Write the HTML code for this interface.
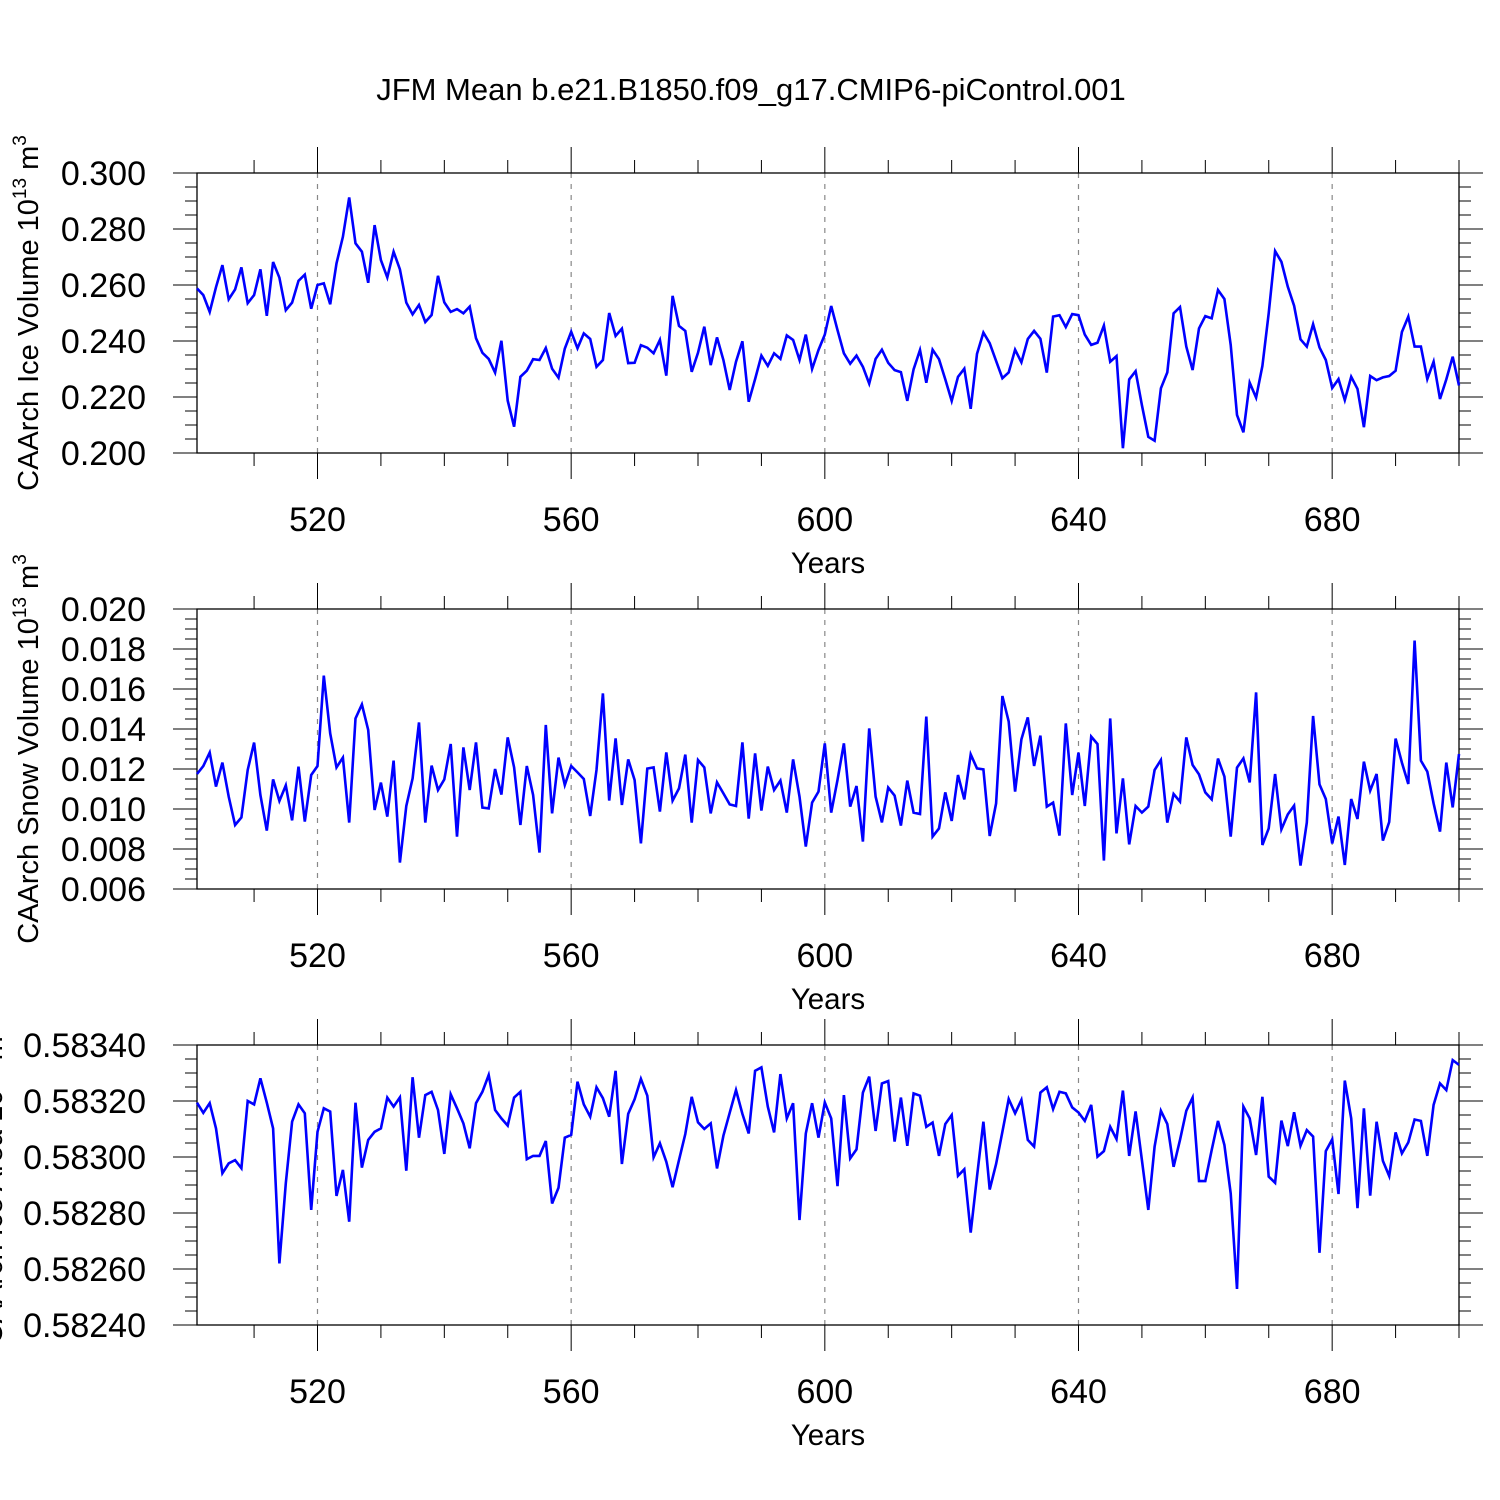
<!DOCTYPE html>
<html><head><meta charset="utf-8"><style>
html,body{margin:0;padding:0;background:#fff}
svg{display:block}
text{font-family:"Liberation Sans",Arial,sans-serif;fill:#000}
</style></head><body>
<svg id="chart" width="1500" height="1500" viewBox="0 0 1500 1500" xmlns="http://www.w3.org/2000/svg">
<text x="751" y="100" font-size="31" text-anchor="middle">JFM Mean b.e21.B1850.f09_g17.CMIP6-piControl.001</text>
</svg>
<script>
const years=[];for(let y=501;y<=700;y++)years.push(y);
const xTicks=[520,560,600,640,680];
const iceVolume=[0.2588,0.2564,0.2504,0.2592,0.2671,0.2549,0.2584,0.2663,0.2535,0.2564,0.2656,0.2490,0.2682,0.2626,0.2510,0.2537,0.2615,0.2637,0.2515,0.2600,
0.2606,0.2531,0.2677,0.2772,0.2913,0.2749,0.2719,0.2608,0.2814,0.2689,0.2627,0.2719,0.2656,0.2537,0.2495,0.2529,0.2468,0.2493,0.2633,0.2538,
0.2504,0.2514,0.2499,0.2523,0.2410,0.2358,0.2336,0.2287,0.2401,0.2187,0.2094,0.2272,0.2294,0.2335,0.2332,0.2375,0.2301,0.2269,0.2373,0.2433,
0.2374,0.2427,0.2407,0.2308,0.2332,0.2500,0.2418,0.2444,0.2321,0.2322,0.2385,0.2376,0.2356,0.2404,0.2276,0.2561,0.2454,0.2436,0.2290,0.2358,
0.2451,0.2314,0.2413,0.2332,0.2225,0.2326,0.2399,0.2183,0.2264,0.2348,0.2311,0.2356,0.2336,0.2420,0.2404,0.2332,0.2423,0.2300,0.2368,0.2423,
0.2525,0.2439,0.2356,0.2319,0.2348,0.2308,0.2248,0.2336,0.2369,0.2322,0.2296,0.2289,0.2186,0.2299,0.2368,0.2251,0.2369,0.2335,0.2263,0.2186,
0.2272,0.2301,0.2158,0.2354,0.2430,0.2392,0.2329,0.2267,0.2288,0.2369,0.2324,0.2407,0.2436,0.2408,0.2287,0.2487,0.2492,0.2450,0.2496,0.2492,
0.2423,0.2386,0.2394,0.2455,0.2326,0.2346,0.2017,0.2263,0.2292,0.2171,0.2058,0.2044,0.2231,0.2288,0.2499,0.2521,0.2380,0.2296,0.2445,0.2489,
0.2481,0.2582,0.2550,0.2386,0.2136,0.2074,0.2251,0.2198,0.2311,0.2499,0.2721,0.2683,0.2594,0.2526,0.2406,0.2380,0.2460,0.2377,0.2332,0.2232,
0.2264,0.2189,0.2272,0.2229,0.2092,0.2275,0.2260,0.2270,0.2275,0.2294,0.2432,0.2487,0.2380,0.2380,0.2264,0.2326,0.2193,0.2263,0.2344,0.2241];
const snowVolume=[0.01175,0.01215,0.01282,0.01112,0.01232,0.01062,0.00920,0.00958,0.01195,0.01332,0.01070,0.00892,0.01148,0.01040,0.01118,0.00943,0.01212,0.00937,0.01170,0.01215,
0.01667,0.01378,0.01208,0.01257,0.00932,0.01453,0.01523,0.01395,0.00995,0.01132,0.00962,0.01242,0.00732,0.01015,0.01153,0.01433,0.00932,0.01217,0.01095,0.01148,
0.01325,0.00862,0.01308,0.01095,0.01333,0.01007,0.01003,0.01200,0.01072,0.01358,0.01208,0.00920,0.01215,0.01070,0.00782,0.01420,0.00978,0.01257,0.01120,0.01215,
0.01183,0.01150,0.00965,0.01195,0.01578,0.01042,0.01353,0.01020,0.01248,0.01145,0.00828,0.01202,0.01208,0.00987,0.01283,0.01042,0.01103,0.01272,0.00932,0.01245,
0.01208,0.00978,0.01133,0.01078,0.01023,0.01015,0.01333,0.00952,0.01278,0.00992,0.01212,0.01095,0.01142,0.00982,0.01248,0.01062,0.00812,0.01032,0.01087,0.01328,
0.00982,0.01145,0.01328,0.01012,0.01115,0.00837,0.01403,0.01062,0.00933,0.01107,0.01067,0.00917,0.01142,0.00982,0.00975,0.01462,0.00862,0.00903,0.01083,0.00940,
0.01170,0.01048,0.01273,0.01203,0.01198,0.00865,0.01028,0.01565,0.01437,0.01087,0.01348,0.01458,0.01215,0.01367,0.01012,0.01032,0.00867,0.01428,0.01070,0.01282,
0.01015,0.01362,0.01325,0.00742,0.01453,0.00878,0.01153,0.00823,0.01015,0.00982,0.01012,0.01195,0.01245,0.00932,0.01075,0.01037,0.01358,0.01220,0.01173,0.01083,
0.01048,0.01252,0.01162,0.00862,0.01207,0.01253,0.01133,0.01583,0.00820,0.00903,0.01175,0.00898,0.00973,0.01017,0.00717,0.00932,0.01465,0.01123,0.01050,0.00828,
0.00962,0.00720,0.01050,0.00950,0.01237,0.01092,0.01175,0.00842,0.00935,0.01352,0.01232,0.01125,0.01842,0.01242,0.01187,0.01028,0.00887,0.01232,0.01008,0.01275];
const iceArea=[0.583194,0.583158,0.583192,0.583102,0.582942,0.582977,0.582989,0.582960,0.583200,0.583188,0.583281,0.583194,0.583102,0.582620,0.582906,0.583126,0.583188,0.583156,0.582811,0.583090,
0.583174,0.583162,0.582861,0.582954,0.582769,0.583194,0.582962,0.583061,0.583090,0.583102,0.583212,0.583180,0.583213,0.582951,0.583285,0.583069,0.583221,0.583233,0.583168,0.583011,
0.583224,0.583174,0.583120,0.583031,0.583192,0.583233,0.583293,0.583168,0.583138,0.583112,0.583212,0.583233,0.582992,0.583004,0.583004,0.583057,0.582834,0.582890,0.583069,0.583079,
0.583269,0.583188,0.583144,0.583249,0.583210,0.583144,0.583308,0.582975,0.583154,0.583206,0.583279,0.583219,0.582999,0.583049,0.582983,0.582892,0.582989,0.583082,0.583215,0.583124,
0.583100,0.583120,0.582959,0.583076,0.583158,0.583239,0.583154,0.583084,0.583308,0.583320,0.583180,0.583088,0.583296,0.583138,0.583192,0.582775,0.583084,0.583192,0.583069,0.583195,
0.583138,0.582896,0.583221,0.582995,0.583027,0.583230,0.583287,0.583093,0.583263,0.583271,0.583055,0.583212,0.583040,0.583227,0.583219,0.583108,0.583123,0.583004,0.583118,0.583150,
0.582933,0.582956,0.582730,0.582930,0.583126,0.582884,0.582975,0.583090,0.583207,0.583156,0.583204,0.583061,0.583037,0.583230,0.583249,0.583171,0.583233,0.583227,0.583177,0.583159,
0.583129,0.583186,0.583001,0.583021,0.583108,0.583064,0.583237,0.583004,0.583163,0.582989,0.582811,0.583037,0.583165,0.583118,0.582965,0.583061,0.583165,0.583212,0.582914,0.582914,
0.583025,0.583129,0.583043,0.582870,0.582529,0.583180,0.583138,0.583007,0.583215,0.582930,0.582908,0.583130,0.583039,0.583160,0.583040,0.583096,0.583073,0.582658,0.583021,0.583063,
0.582868,0.583273,0.583138,0.582817,0.583174,0.582862,0.583126,0.582986,0.582932,0.583088,0.583013,0.583052,0.583134,0.583129,0.583004,0.583186,0.583263,0.583239,0.583346,0.583329];

const svg=document.getElementById('chart');
const NS='http://www.w3.org/2000/svg';
function mk(tag,attrs,parent){const e=document.createElementNS(NS,tag);for(const k in attrs)e.setAttribute(k,attrs[k]);(parent||svg).appendChild(e);return e;}
const X0=197,X1=1459,YR0=501,YR1=700;
function xScale(yr){return X0+(yr-YR0)*(X1-X0)/(YR1-YR0);}

const panels=[
 {name:'ice-volume',top:173,bot:453,min:0.200,max:0.300,major:0.020,minor:0.005,dec:3,data:iceVolume,title:'CAArch Ice Volume 10',sup2:'3',titleX:38},
 {name:'snow-volume',top:609,bot:889,min:0.006,max:0.020,major:0.002,minor:0.0005,dec:3,data:snowVolume,title:'CAArch Snow Volume 10',sup2:'3',titleX:38},
 {name:'ice-area',top:1045,bot:1325,min:0.58240,max:0.58340,major:0.0002,minor:0.00005,dec:5,data:iceArea,title:'CAArch Ice Area 10',sup2:'2',titleX:2}
];
panels.forEach(p=>{
 const g=mk('g',{});
 
 
 const yS=v=>p.bot-(v-p.min)*(p.bot-p.top)/(p.max-p.min);
 xTicks.forEach(t=>{const l=mk('line',{x1:xScale(t),x2:xScale(t),y1:p.top,y2:p.bot,stroke:'#888','stroke-width':1.2,'stroke-dasharray':'5,6'},g);
  });
 for(let t=510;t<=700;t+=10){
  const maj=t%40===0;const L=maj?26:13;const x=xScale(t);
  const a=mk('line',{x1:x,x2:x,y1:p.top,y2:p.top-L,stroke:'#000','stroke-width':1},g);
  
  const b=mk('line',{x1:x,x2:x,y1:p.bot,y2:p.bot+L,stroke:'#000','stroke-width':1},g);
  
 }
 xTicks.forEach(t=>{const tx=mk('text',{x:xScale(t),y:p.bot+78,'font-size':34,'text-anchor':'middle'},g);tx.textContent=t;
  });
 const xl=mk('text',{x:828,y:p.bot+120,'font-size':29.5,'text-anchor':'middle'},g);xl.textContent='Years';
 
 const nMin=Math.round((p.max-p.min)/p.minor);const per=Math.round(p.major/p.minor);
 for(let i=0;i<=nMin;i++){
  const v=p.min+i*p.minor;const y=yS(v);const maj=i%per===0;const L=maj?24:12;
  const a=mk('line',{x1:X0,x2:X0-L,y1:y,y2:y,stroke:'#000','stroke-width':1},g);
  
  const b=mk('line',{x1:X1,x2:X1+L,y1:y,y2:y,stroke:'#000','stroke-width':1},g);
  
  if(maj){const tx=mk('text',{x:146,y:y+12,'font-size':34,'text-anchor':'end'},g);tx.textContent=v.toFixed(p.dec);
   }
 }
 const fr=mk('rect',{x:X0,y:p.top,width:X1-X0,height:p.bot-p.top,fill:'none',stroke:'#000','stroke-width':1.3},g);
 
 const pts=p.data.map((v,i)=>xScale(years[i]).toFixed(1)+','+yS(v).toFixed(1)).join(' ');
 const pl=mk('polyline',{points:pts,fill:'none',stroke:'#0000ff','stroke-width':2.6,'stroke-linejoin':'miter'},g);
 
 const cy=(p.top+p.bot)/2;
 const yt=mk('text',{x:p.titleX,y:cy,'font-size':29,'text-anchor':'middle',transform:'rotate(-90 '+p.titleX+' '+cy+')'},g);
 
 yt.appendChild(document.createTextNode(p.title));
 const s1=mk('tspan',{'font-size':19,dy:-12},yt);s1.textContent='13';
 const s0=mk('tspan',{'font-size':29,dy:12},yt);s0.textContent=' m';
 const s2=mk('tspan',{'font-size':19,dy:-12},yt);s2.textContent=p.sup2;
});
</script>
</body></html>
